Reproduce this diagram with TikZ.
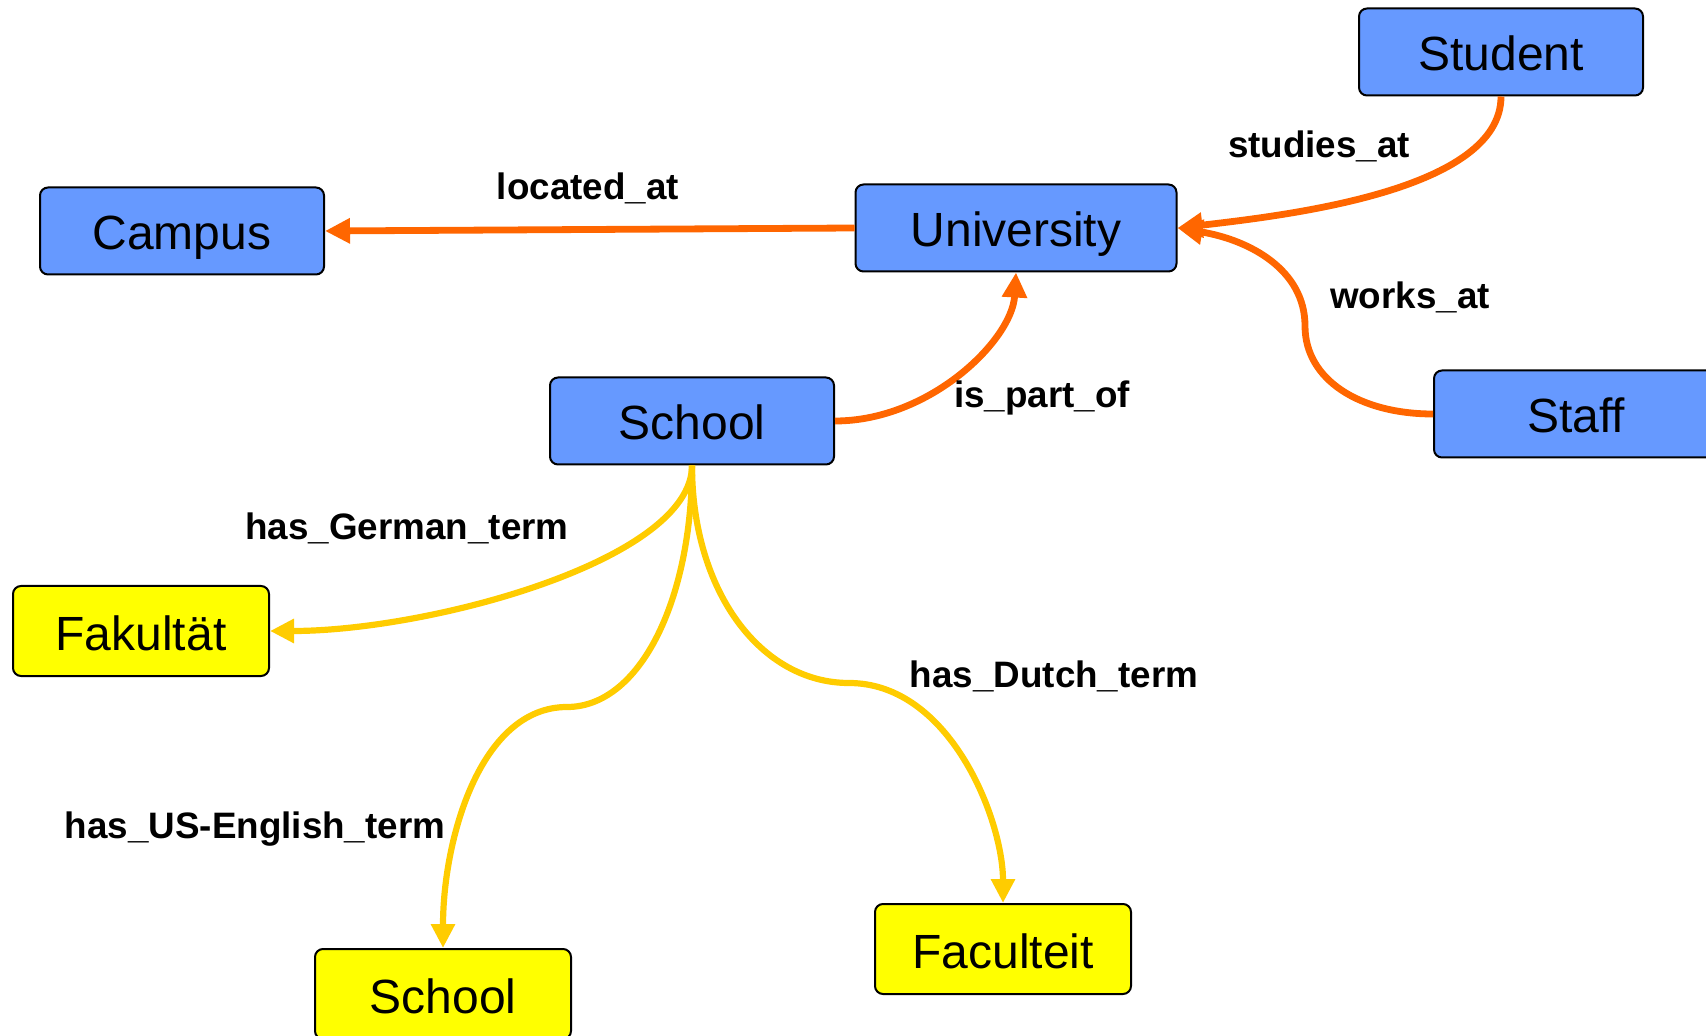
\documentclass[tikz,border=0pt]{standalone}
\usepackage{fontspec}
\setmainfont{Liberation Sans}
\usetikzlibrary{arrows.meta}
\definecolor{boxblue}{HTML}{6699FF}
\definecolor{arrorange}{HTML}{FF6600}
\definecolor{boxyellow}{HTML}{FFFF00}
\definecolor{arryellow}{HTML}{FFCC00}
\begin{document}
\begin{tikzpicture}[x=0.5pt,y=-0.5pt,
  bluebox/.style={draw=black, line width=1pt, fill=boxblue, rounded corners=4pt,
    minimum width=142pt, minimum height=43.5pt, inner sep=0pt,
    text height=19pt, text depth=0pt,
    font=\fontsize{24}{28}\selectfont},
  yellowbox/.style={draw=black, line width=1pt, fill=boxyellow, rounded corners=4pt,
    minimum width=128pt, minimum height=45pt, inner sep=0pt,
    text height=19pt, text depth=0pt,
    font=\fontsize{24}{28}\selectfont},
  orangearrow/.style={draw=arrorange, line width=3.4pt,
    -{Triangle[length=12.5pt,width=12pt]}},
  yellowarrow/.style={draw=arryellow, line width=3.1pt,
    -{Triangle[length=12pt,width=11.5pt]}},
  lbl/.style={font=\bfseries\fontsize{18.4}{22}\selectfont, inner sep=0pt}]
\useasboundingbox (0,0) rectangle (1706,1036);

% nodes
\node[bluebox] (student) at (1501,52) {Student};
\node[bluebox, minimum width=160.5pt] (univ) at (1016,228) {University};
\node[bluebox] (campus) at (182,231) {Campus};
\node[bluebox] (school) at (692,421) {School};
\node[bluebox] (staff) at (1576,414) {Staff};
\node[yellowbox] (fak) at (141,631) {Fakultät};
\node[yellowbox] (ysch) at (443,994) {School};
\node[yellowbox] (fac) at (1003,949) {Faculteit};

% waypoints
\coordinate (sw) at (1305,326);
\coordinate (em) at (567,707);
\coordinate (dm) at (849,683);

% orange connectors
\draw[orangearrow] (univ.west) -- (campus.east);
\draw[orangearrow] (student.south) .. controls (1501,190) and (1290,215) .. (univ.east);
\draw[orangearrow] (staff.west) .. controls (1360,414) and (1305,380) .. (sw)
  .. controls (1305,270) and (1250,240) .. (univ.east);
\draw[orangearrow] (school.east) .. controls (930,421) and (1012,340) .. (univ.south);

% yellow connectors
\draw[yellowarrow] (school.south) .. controls (692,560) and (430,631) .. (fak.east);
\draw[yellowarrow] (school.south) .. controls (692,600) and (640,707) .. (em)
  .. controls (480,707) and (443,840) .. (ysch.north);
\draw[yellowarrow] (school.south) .. controls (692,590) and (760,683) .. (dm)
  .. controls (950,683) and (1003,820) .. (fac.north);

% labels
\node[lbl] (l1) at (588,188) {located\_at};
\node[lbl] (l2) at (1319,146) {studies\_at};
\node[lbl] (l3) at (1410,297) {works\_at};
\node[lbl] (l4) at (1042,398) {is\_part\_of};
\node[lbl] (l5) at (407,528) {has\_German\_term};
\node[lbl] (l6) at (1054,676) {has\_Dutch\_term};
\node[lbl] (l7) at (255,829) {has\_US-English\_term};
\end{tikzpicture}
\end{document}
